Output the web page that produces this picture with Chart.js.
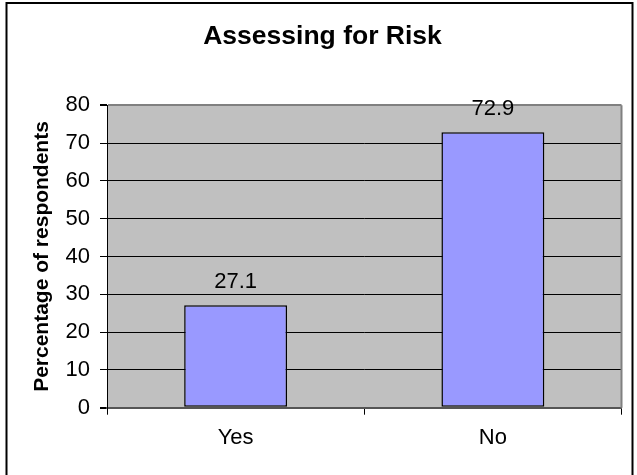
<!DOCTYPE html>
<html>
<head>
<meta charset="utf-8">
<title>Assessing for Risk</title>
<script src="https://cdn.jsdelivr.net/npm/chart.js@4/dist/chart.umd.min.js"></script>
<style>
  html, body { margin: 0; padding: 0; background: #ffffff; }
  #chart { display: block; }
</style>
</head>
<body>
<canvas id="chart" width="637" height="475"></canvas>
<script>
// Survey answers and the share of respondents (%) for each
const categories = ['Yes', 'No'];
const percentages = [27.1, 72.9];
const yTicks = [0, 10, 20, 30, 40, 50, 60, 70, 80];

const FONT = '"Liberation Sans", Arial, Helvetica, sans-serif';

// Grey plot background, grey frame on the right, outer chart border
const frame = {
  id: 'frame',
  beforeDraw(chart) {
    const { ctx, chartArea: a } = chart;
    ctx.save();
    ctx.fillStyle = '#ffffff';
    ctx.fillRect(0, 0, chart.width, chart.height);
    ctx.fillStyle = '#c0c0c0';
    ctx.fillRect(a.left, a.top, a.right - a.left, a.bottom - a.top);
    ctx.strokeStyle = '#000000';
    ctx.lineWidth = 2;
    ctx.strokeRect(6.5, 3, 626, chart.height + 10);
    ctx.restore();
  },
  beforeDatasetsDraw(chart) {
    const { ctx, chartArea: a } = chart;
    ctx.save();
    ctx.strokeStyle = '#808080';
    ctx.lineWidth = 2;
    ctx.beginPath();
    ctx.moveTo(a.right, a.top);
    ctx.lineTo(a.right, a.bottom);
    ctx.stroke();
    ctx.restore();
  }
};

// Value printed above each bar
const valueLabels = {
  id: 'valueLabels',
  afterDatasetsDraw(chart) {
    const { ctx } = chart;
    const meta = chart.getDatasetMeta(0);
    const data = chart.data.datasets[0].data;
    ctx.save();
    ctx.font = '22px ' + FONT;
    ctx.fillStyle = '#000000';
    ctx.textAlign = 'center';
    ctx.textBaseline = 'alphabetic';
    meta.data.forEach((bar, i) => {
      ctx.fillText(String(data[i]), bar.x, bar.y - 17);
    });
    ctx.restore();
  }
};

new Chart(document.getElementById('chart'), {
  type: 'bar',
  data: {
    labels: categories,
    datasets: [{
      data: percentages,
      backgroundColor: '#9999ff',
      borderColor: '#000000',
      borderWidth: 1.5,
      borderSkipped: false,
      categoryPercentage: 1,
      barPercentage: 0.4
    }]
  },
  options: {
    responsive: false,
    devicePixelRatio: 1,
    animation: false,
    layout: { padding: { left: 23.5, right: 15.5, top: 0, bottom: 0 } },
    plugins: {
      legend: { display: false },
      tooltip: { enabled: false },
      title: {
        display: true,
        text: 'Assessing for Risk',
        color: '#000000',
        font: { family: FONT, size: 26.5, weight: 'bold' },
        padding: { top: 21, bottom: 52.5 }
      }
    },
    scales: {
      x: {
        afterFit(scale) { scale.height = 67.3; },
        grid: {
          offset: true,
          drawOnChartArea: false,
          drawTicks: true,
          tickLength: 7,
          color: '#000000',
          tickColor: '#000000'
        },
        border: { display: true, color: '#555555', width: 2 },
        ticks: {
          color: '#000000',
          padding: 10,
          font: { family: FONT, size: 22 }
        }
      },
      y: {
        min: 0,
        max: 80,
        afterFit(scale) { scale.width = 83.5; },
        afterBuildTicks(scale) {
          scale.ticks = yTicks.map(v => ({ value: v }));
        },
        grid: {
          drawTicks: true,
          tickLength: 7,
          color: ctx => {
            const v = ctx.tick && ctx.tick.value;
            if (v === 80) return '#808080';
            if (v === 0) return '#555555';
            return '#000000';
          },
          lineWidth: ctx => {
            const v = ctx.tick && ctx.tick.value;
            return (v === 80 || v === 0) ? 2 : 1;
          },
          tickColor: '#000000'
        },
        border: { display: true, color: '#000000', width: 1 },
        ticks: {
          color: '#000000',
          padding: 10,
          font: { family: FONT, size: 22 }
        },
        title: {
          display: true,
          text: 'Percentage of respondents',
          color: '#000000',
          font: { family: FONT, size: 21, weight: 'bold' },
          padding: { top: 6.5, bottom: 0 }
        }
      }
    }
  },
  plugins: [frame, valueLabels]
});
</script>
</body>
</html>
